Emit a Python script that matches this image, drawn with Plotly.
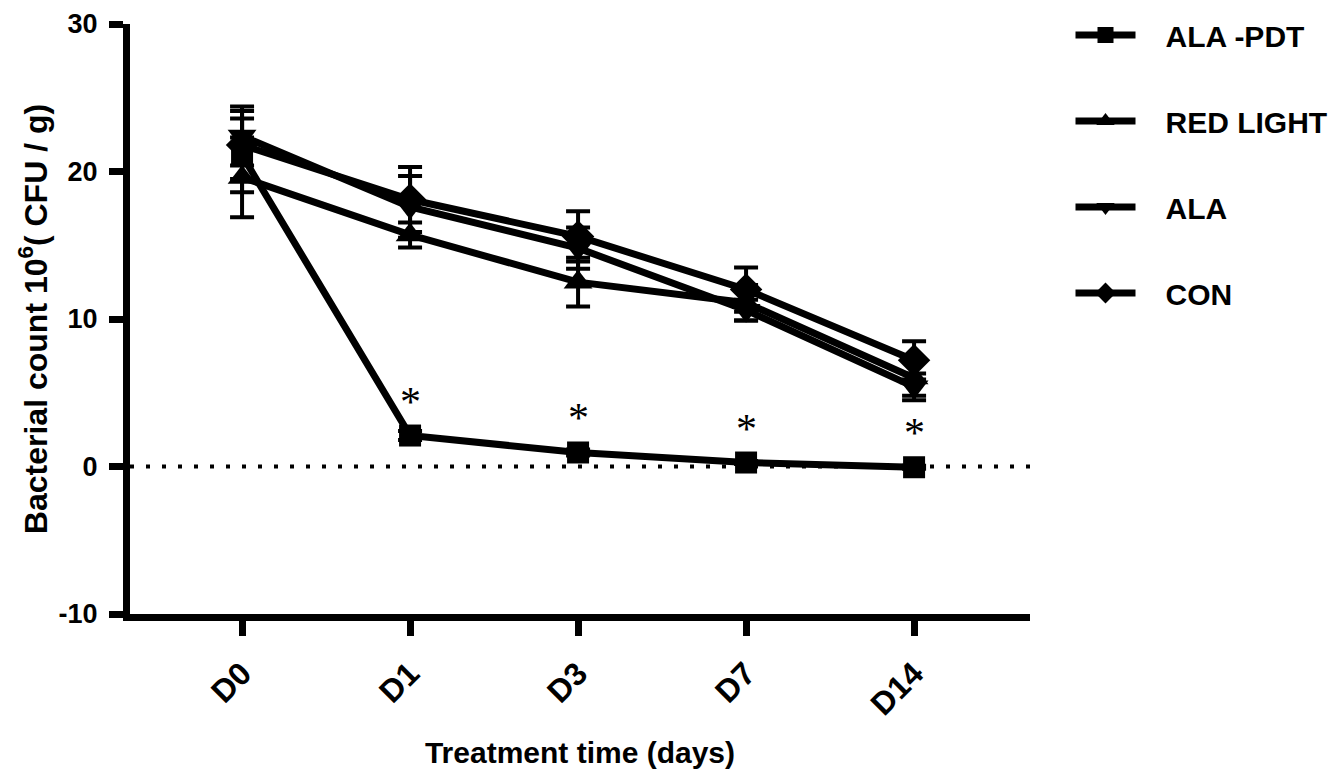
import plotly.graph_objects as go

# Treatment days and group means / SD (bacterial count, 10^6 CFU/g)
days = ["D0", "D1", "D3", "D7", "D14"]

ala_pdt = [21.1, 2.1, 0.95, 0.27, -0.05]
ala_pdt_sd = [2.5, 0.3, 0.2, 0.1, 0.1]

red_light = [19.6, 15.7, 12.5, 11.1, 6.0]
red_light_sd = [2.7, 0.85, 1.65, 1.2, 1.2]

ala = [22.4, 17.6, 14.8, 10.6, 5.4]
ala_sd = [2.0, 2.1, 1.4, 0.7, 0.9]

con = [21.8, 18.1, 15.6, 12.0, 7.2]
con_sd = [2.3, 2.2, 1.7, 1.5, 1.3]

# Days where ALA-PDT differs significantly
sig_days = ["D1", "D3", "D7", "D14"]

y_ticks = [-10, 0, 10, 20, 30]
y_tick_text = ["-10", "0", "10", "20", "30"]

groups = [
    ("ALA -PDT", ala_pdt, ala_pdt_sd, "square", 22),
    ("RED LIGHT", red_light, red_light_sd, "triangle-up", 25),
    ("ALA", ala, ala_sd, "triangle-down", 25),
    ("CON", con, con_sd, "diamond", 25),
]

fig = go.Figure()

for name, vals, sd, symbol, size in groups:
    fig.add_trace(go.Scatter(
        x=days, y=vals, name="\u00a0\u00a0\u00a0" + name, legendgroup=name,
        mode="lines+markers",
        line=dict(color="black", width=7),
        marker=dict(symbol=symbol, size=size, color="black"),
        error_y=dict(type="data", array=sd, visible=True,
                     color="black", thickness=4, width=12),
    ))

# asterisks above ALA-PDT points
for d in sig_days:
    fig.add_annotation(x=d, y=ala_pdt[days.index(d)], text="*",
                       showarrow=False, yshift=34,
                       font=dict(size=42, color="black", weight="normal",
                                 family="Liberation Serif"))

# dotted zero line
fig.add_shape(type="line", xref="paper", x0=0, x1=1, yref="y", y0=0, y1=0,
              line=dict(color="black", width=4, dash="4px,12px"),
              layer="below")

# page body adds 8px offset, so margins are shifted to compensate;
# y domain leaves room at the top so the legend can sit higher
fig.update_layout(
    width=1336, height=776,
    margin=dict(l=122, r=314, t=1, b=170),
    paper_bgcolor="white", plot_bgcolor="white",
    font=dict(family="Liberation Sans", color="black", weight="bold"),
    showlegend=True,
    legend=dict(x=1.045, y=1.0, yanchor="top", xanchor="left",
                font=dict(size=30, weight="bold"),
                tracegroupgap=44, itemwidth=60),
)

fig.update_xaxes(
    type="category", range=[-0.667, 4.69], automargin=False,
    showline=True, linecolor="black", linewidth=7,
    ticks="outside", ticklen=15, tickwidth=7, tickcolor="black",
    showgrid=False, zeroline=False, ticklabelstandoff=6,
    tickangle=-45, tickfont=dict(size=32, weight="bold"),
    title=dict(text="Treatment time (days)", standoff=23,
               font=dict(size=30, weight="bold")),
)

fig.update_yaxes(
    range=[-10, 30], tickvals=y_ticks, ticktext=y_tick_text, automargin=False,
    domain=[0, 1 - 15 / 605],
    showline=True, linecolor="black", linewidth=7,
    ticks="outside", ticklen=14, tickwidth=7, tickcolor="black",
    showgrid=False, zeroline=False, ticklabelstandoff=6,
    ticklabeloverflow="allow",
    tickfont=dict(size=27, weight="bold"),
    title=dict(text="Bacterial count 10<sup>6</sup>( CFU / g)", standoff=4,
               font=dict(size=32, weight="bold")),
)

fig.write_html("out.html")
